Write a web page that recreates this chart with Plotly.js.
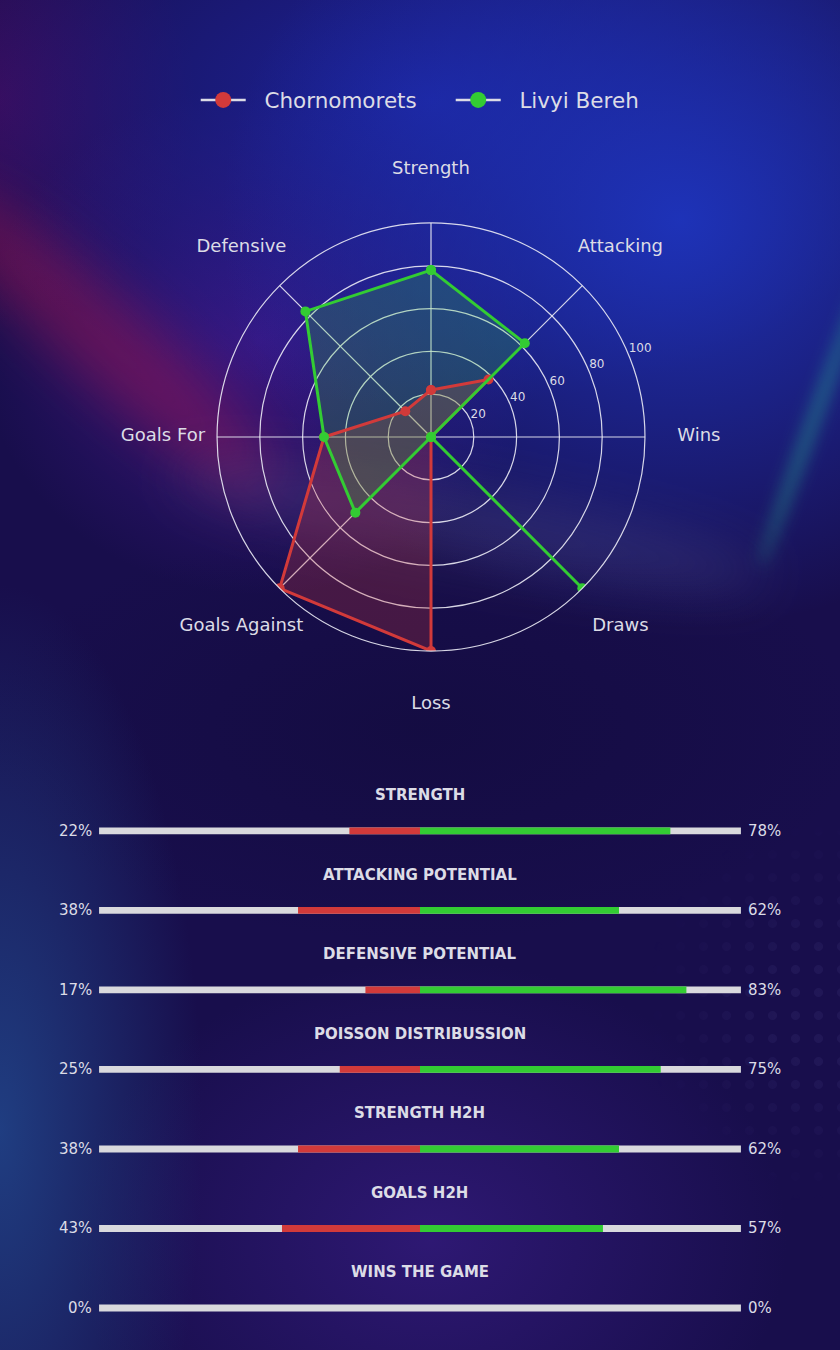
<!DOCTYPE html>
<html>
<head>
<meta charset="utf-8">
<script src="https://cdn.plot.ly/plotly-3.0.1.min.js"></script>
<style>
  html, body { margin: 0; padding: 0; }
  body {
    width: 840px; height: 1350px; position: relative; overflow: hidden;
    background: #180e4c;
  }
  .bg { position: absolute; pointer-events: none; }
  #chart { position: absolute; left: 0; top: 0; width: 840px; height: 1350px; }
</style>
</head>
<body>
<!-- background glows, plotly paper is transparent on top of these -->
<div class="bg" style="left:0;top:0;width:840px;height:1350px;
  background:
    radial-gradient(ellipse 540px 480px at 680px 220px, rgba(30,52,188,0.95), rgba(30,52,188,0) 85%),
    radial-gradient(ellipse 580px 340px at 430px 100px, rgba(28,36,158,0.95), rgba(28,36,158,0) 90%),
    radial-gradient(ellipse 330px 300px at 260px 340px, rgba(64,24,138,0.85), rgba(64,24,138,0) 85%),
    radial-gradient(ellipse 230px 270px at 0px 100px, rgba(62,10,86,0.95), rgba(62,10,86,0) 85%),
    radial-gradient(ellipse 230px 620px at 0px 1130px, rgba(32,64,132,0.95), rgba(32,64,132,0) 88%),
    radial-gradient(ellipse 420px 330px at 430px 1240px, rgba(50,26,122,0.85), rgba(50,26,122,0) 85%),
    radial-gradient(ellipse 520px 250px at 420px 730px, rgba(20,12,66,0.95), rgba(20,12,66,0) 85%);"></div>
<div class="bg" style="left:-120px;top:300px;width:450px;height:80px;border-radius:50%;
  background:rgba(175,22,80,0.45);filter:blur(28px);transform:rotate(42deg);"></div>
<div class="bg" style="left:170px;top:490px;width:600px;height:70px;border-radius:50%;
  background:rgba(150,150,195,0.15);filter:blur(26px);transform:rotate(10deg);"></div>
<div class="bg" style="left:655px;top:410px;width:320px;height:12px;border-radius:50%;
  background:rgba(40,190,150,0.45);filter:blur(8px);transform:rotate(-70deg);"></div>
<div class="bg" style="left:600px;top:820px;width:240px;height:380px;
  background-image:radial-gradient(circle, rgba(150,140,230,0.07) 4px, rgba(0,0,0,0) 5px);
  background-size:23px 23px;
  -webkit-mask-image:radial-gradient(ellipse 200px 200px at 240px 190px, #000 30%, transparent 100%);
  mask-image:radial-gradient(ellipse 200px 200px at 240px 190px, #000 30%, transparent 100%);"></div>

<div id="chart"></div>
<script>
// radar data (0-100)
const categories = ['Strength', 'Attacking', 'Wins', 'Draws', 'Loss', 'Goals Against', 'Goals For', 'Defensive'];
const chornoRadar = [22, 38, 0, 0, 100, 100, 50, 17];
const livyiRadar = [78, 62, 0, 100, 0, 50, 50, 83];
const radialTicks = [20, 40, 60, 80, 100];
const radialLabelAngle = 22.5;

// comparison bars (percent)
const barTitles = ['STRENGTH', 'ATTACKING POTENTIAL', 'DEFENSIVE POTENTIAL', 'POISSON DISTRIBUSSION',
  'STRENGTH H2H', 'GOALS H2H', 'WINS THE GAME'];
const chornoPct = [22, 38, 17, 25, 38, 43, 0];
const livyiPct = [78, 62, 83, 75, 62, 57, 0];

const teamA = 'Chornomorets';
const teamB = 'Livyi Bereh';
const red = '#d23a3a';
const green = '#33cc33';
const txt = '#dcdce6';
const font = 'DejaVu Sans, sans-serif';
const nb = '\u00a0\u00a0';

const close = a => a.concat([a[0]]);

const traces = [];

// fills first, then outlines on top
traces.push({
  type: 'scatterpolar', subplot: 'polar',
  r: close(chornoRadar), theta: close(categories),
  mode: 'none', fill: 'toself', fillcolor: 'rgba(210,58,58,0.25)',
  showlegend: false, hoverinfo: 'skip'
});
traces.push({
  type: 'scatterpolar', subplot: 'polar',
  r: close(livyiRadar), theta: close(categories),
  mode: 'none', fill: 'toself', fillcolor: 'rgba(51,204,51,0.22)',
  showlegend: false, hoverinfo: 'skip'
});
traces.push({
  type: 'scatterpolar', subplot: 'polar', name: teamA,
  r: close(chornoRadar), theta: close(categories),
  mode: 'lines+markers', cliponaxis: true,
  line: {color: red, width: 3}, marker: {color: red, size: 10},
  showlegend: false, hoverinfo: 'skip'
});
traces.push({
  type: 'scatterpolar', subplot: 'polar', name: teamB,
  r: close(livyiRadar), theta: close(categories),
  mode: 'lines+markers', cliponaxis: true,
  line: {color: green, width: 3}, marker: {color: green, size: 10},
  showlegend: false, hoverinfo: 'skip'
});
// category labels, centred on a wider invisible ring (polar2)
traces.push({
  type: 'scatterpolar', subplot: 'polar2',
  r: categories.map(() => 100), theta: categories,
  mode: 'text', text: categories, cliponaxis: false,
  textfont: {family: font, size: 18, color: txt},
  showlegend: false, hoverinfo: 'skip'
});
// radial tick labels along one spoke (polar3 shares the radar's domain, numeric angle)
traces.push({
  type: 'scatterpolar', subplot: 'polar3',
  r: radialTicks, theta: radialTicks.map(() => radialLabelAngle),
  mode: 'text', text: radialTicks.map(String), textposition: 'top right',
  cliponaxis: false,
  textfont: {family: font, size: 12, color: txt},
  showlegend: false, hoverinfo: 'skip'
});
// legend entries
[[teamA, red], [teamB, green]].forEach(([name, c]) => {
  traces.push({
    type: 'scatterpolar', subplot: 'polar', name: nb + name,
    r: [null], theta: [categories[0]],
    mode: 'lines+markers',
    line: {color: txt, width: 2.5}, marker: {color: c, size: 24},
    hoverinfo: 'skip'
  });
});

// bars
const rows = barTitles.map((t, i) => i);
traces.push({
  type: 'bar', orientation: 'h', xaxis: 'x', yaxis: 'y',
  y: rows, x: rows.map(() => 200), base: rows.map(() => -100),
  width: 0.085, marker: {color: '#d9d9dd'}, showlegend: false, hoverinfo: 'skip'
});
traces.push({
  type: 'bar', orientation: 'h', xaxis: 'x', yaxis: 'y',
  y: rows, x: chornoPct, base: chornoPct.map(v => -v),
  width: 0.085, marker: {color: red}, showlegend: false, hoverinfo: 'skip'
});
traces.push({
  type: 'bar', orientation: 'h', xaxis: 'x', yaxis: 'y',
  y: rows, x: livyiPct, base: rows.map(() => 0),
  width: 0.085, marker: {color: green}, showlegend: false, hoverinfo: 'skip'
});

const annotations = [];
barTitles.forEach((t, i) => {
  annotations.push({xref: 'x', yref: 'y', x: 0, y: i - 0.45, text: '<b>' + t + '</b>',
    showarrow: false, font: {family: font, size: 15, color: txt}});
  annotations.push({xref: 'x', yref: 'y', x: -100, y: i, xanchor: 'right', xshift: -5,
    text: chornoPct[i] + '%', showarrow: false, font: {family: font, size: 15, color: txt}});
  annotations.push({xref: 'x', yref: 'y', x: 100, y: i, xanchor: 'left', xshift: 5,
    text: livyiPct[i] + '%', showarrow: false, font: {family: font, size: 15, color: txt}});
});

const gridc = 'rgba(235,235,245,0.9)';
const radarDomain = {x: [0.2583, 0.7679], y: [0.5178, 0.8348]};
const layout = {
  width: 840, height: 1350,
  margin: {l: 0, r: 0, t: 0, b: 0},
  paper_bgcolor: 'rgba(0,0,0,0)',
  plot_bgcolor: 'rgba(0,0,0,0)',
  font: {family: font, color: txt},
  showlegend: true,
  legend: {
    orientation: 'h', x: 0.233, xanchor: 'left', y: 0.926, yanchor: 'middle',
    font: {family: font, size: 21.5, color: txt}, itemwidth: 45, entrywidth: 195,
    bgcolor: 'rgba(0,0,0,0)', itemsizing: 'trace'
  },
  polar: {
    domain: radarDomain,
    bgcolor: 'rgba(0,0,0,0)',
    radialaxis: {
      range: [0, 100], tickvals: radialTicks, showticklabels: false,
      showline: false, ticks: '', gridcolor: gridc, gridwidth: 1.2
    },
    angularaxis: {
      direction: 'clockwise', rotation: 90,
      showticklabels: false, ticks: '',
      gridcolor: gridc, gridwidth: 1.2, linecolor: gridc, linewidth: 1.2
    }
  },
  polar2: {
    domain: {x: [0.194, 0.832], y: [0.4778, 0.8748]},
    bgcolor: 'rgba(0,0,0,0)',
    radialaxis: {range: [0, 100], visible: false},
    angularaxis: {direction: 'clockwise', rotation: 90, visible: false}
  },
  polar3: {
    domain: radarDomain,
    bgcolor: 'rgba(0,0,0,0)',
    radialaxis: {range: [0, 100], visible: false},
    angularaxis: {type: 'linear', thetaunit: 'degrees', direction: 'counterclockwise',
      rotation: 0, visible: false}
  },
  xaxis: {domain: [0.1179, 0.8821], range: [-100, 100], visible: false, fixedrange: true},
  yaxis: {domain: [0.00167, 0.4139], range: [6.5, -0.5], visible: false, fixedrange: true},
  barmode: 'overlay',
  annotations: annotations
};

Plotly.newPlot('chart', traces, layout, {displayModeBar: false, staticPlot: true});
</script>
</body>
</html>
